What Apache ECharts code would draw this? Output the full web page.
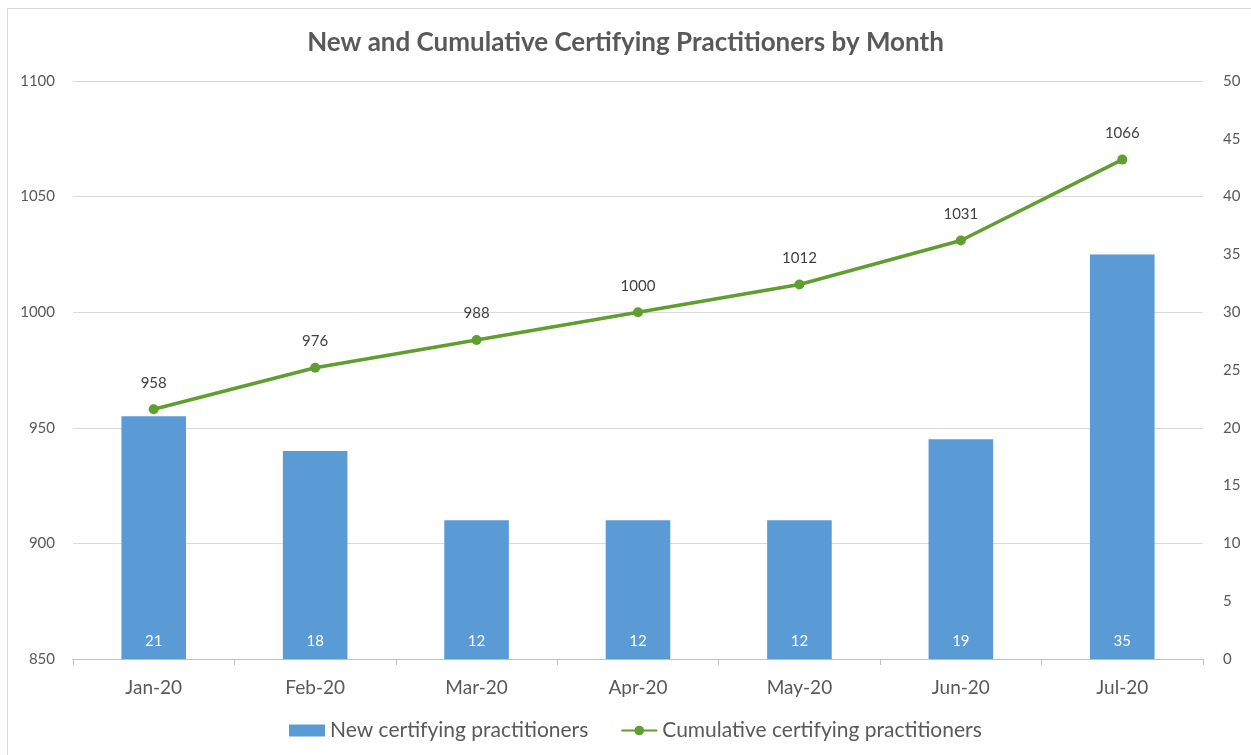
<!DOCTYPE html>
<html>
<head>
<meta charset="utf-8">
<script src="https://cdn.jsdelivr.net/npm/echarts@6/dist/echarts.min.js"></script>
<style>
  html, body { margin: 0; padding: 0; background: #fff; }
  #frame { position: absolute; left: 7px; top: 8px; width: 1260px; height: 760px; border: 1px solid #d9d9d9; }
  #echart { position: absolute; left: 0; top: 0; width: 1251px; height: 755px; }
</style>
</head>
<body>
<div id="frame"></div>
<div id="echart"></div>
<script>
const months = ['Jan-20', 'Feb-20', 'Mar-20', 'Apr-20', 'May-20', 'Jun-20', 'Jul-20']
const newPractitioners = [21, 18, 12, 12, 12, 19, 35]
const cumulativePractitioners = [958, 976, 988, 1000, 1012, 1031, 1066]

const font = 'Lato, "Open Sans", sans-serif'
const textColor = '#595959'

const myChart = echarts.init(document.getElementById('echart'))
const option = {
  animation: false,
  title: {
    text: 'New and Cumulative Certifying Practitioners by Month',
    left: 'center',
    top: 25,
    textStyle: { fontFamily: font, fontSize: 26, fontWeight: 'bold', color: '#595959' }
  },
  legend: {
    bottom: 9,
    left: 284,
    itemGap: 32,
    textStyle: { fontFamily: font, fontSize: 21, color: textColor },
    data: [
      { name: 'New certifying practitioners', icon: 'rect', itemStyle: { color: '#5b9bd5' } },
      { name: 'Cumulative certifying practitioners' }
    ],
    itemWidth: 36,
    itemHeight: 12
  },
  grid: {
    left: 73,
    right: 48,
    top: 81,
    bottom: 96
  },
  xAxis: [
    {
      type: 'category',
      data: months,
      boundaryGap: true,
      axisLine: { lineStyle: { color: '#bfbfbf' } },
      axisTick: { show: true, length: 6, lineStyle: { color: '#bfbfbf' } },
      axisLabel: { fontFamily: font, fontSize: 19, color: textColor, margin: 19 }
    }
  ],
  yAxis: [
    {
      type: 'value',
      min: 850,
      max: 1100,
      interval: 50,
      axisLine: { show: false },
      axisTick: { show: false },
      splitLine: { lineStyle: { color: '#d9d9d9' } },
      axisLabel: { fontFamily: font, fontSize: 15, color: textColor, margin: 18, formatter: v => String(v) }
    },
    {
      type: 'value',
      min: 0,
      max: 50,
      interval: 5,
      axisLine: { show: false },
      axisTick: { show: false },
      splitLine: { show: false },
      axisLabel: { fontFamily: font, fontSize: 15, color: textColor, margin: 20 }
    }
  ],
  series: [
    {
      name: 'New certifying practitioners',
      type: 'bar',
      yAxisIndex: 1,
      barWidth: '40%',
      itemStyle: { color: '#5b9bd5' },
      label: {
        show: true,
        position: 'insideBottom',
        distance: 10,
        color: '#ffffff',
        fontFamily: font,
        fontSize: 15
      },
      data: newPractitioners
    },
    {
      name: 'Cumulative certifying practitioners',
      type: 'line',
      yAxisIndex: 0,
      symbol: 'circle',
      symbolSize: 10,
      lineStyle: { color: '#5f9e2f', width: 3.5 },
      itemStyle: { color: '#5f9e2f' },
      label: {
        show: true,
        position: 'top',
        distance: 14,
        color: '#404040',
        fontFamily: font,
        fontSize: 15
      },
      data: cumulativePractitioners
    }
  ]
}
myChart.setOption(option)
</script>
</body>
</html>
